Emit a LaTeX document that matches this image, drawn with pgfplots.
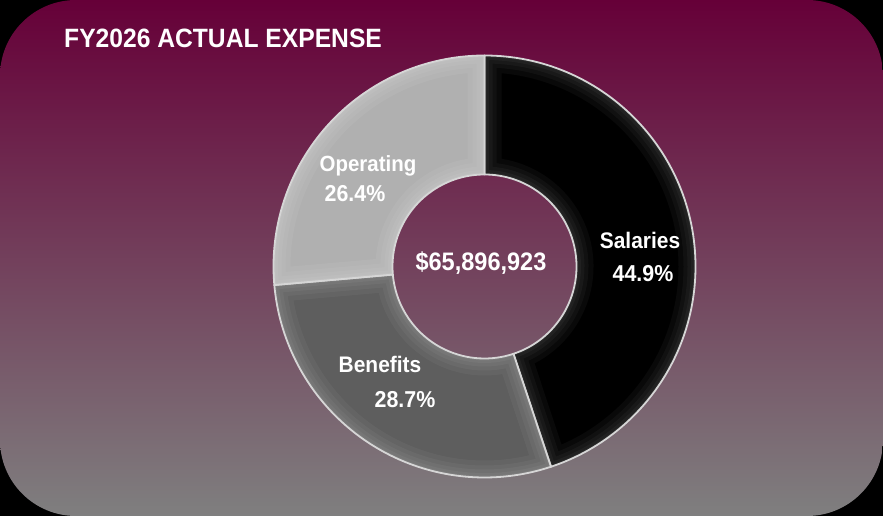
\documentclass[border=0pt]{standalone}
\usepackage{pgfplots}
\pgfplotsset{compat=1.18}
\usepackage{pgfplotstable}
\usepackage{fontspec}
\setmainfont{Liberation Sans}[FakeStretch=0.93]
\usetikzlibrary{calc}

\definecolor{Maroon}{HTML}{660038}
\definecolor{Slate}{HTML}{7F7F7F}
\definecolor{SalCol}{HTML}{000000}
\definecolor{BenCol}{HTML}{5E5E5E}
\definecolor{OpeCol}{HTML}{B0B0B0}
\definecolor{EdgeCol}{HTML}{D6D6D6}

% share of expense, percent
\pgfplotstableread{
label      value
Salaries   44.9
Benefits   28.7
Operating  26.4
}\expdata

\pgfplotstablegetelem{0}{value}\of\expdata \let\vSal\pgfplotsretval
\pgfplotstablegetelem{1}{value}\of\expdata \let\vBen\pgfplotsretval
\pgfplotstablegetelem{2}{value}\of\expdata \let\vOpe\pgfplotsretval

% donut geometry (pt, 1pt = 1px)
\def\cx{484.5}
\def\cy{249.5}
\def\Rout{211pt}
\def\Rin{92pt}

% slice between angles #1 and #2 (clockwise)
\newcommand\slice[2]{(axis cs:\cx,\cy) ++(#1:\Rout) arc[start angle=#1,end angle=#2,radius=\Rout]
  -- ($(axis cs:\cx,\cy)+(#2:\Rin)$) arc[start angle=#2,end angle=#1,radius=\Rin] -- cycle}

% one bevelled wedge: #1 start, #2 end, #3 colour, #4 sheen opacity
\newcommand\donutwedge[4]{%
  \begin{scope}
    \clip \slice{#1}{#2};
    \fill[#3] \slice{#1}{#2};
    \draw[white, opacity=#4, line width=34pt] \slice{#1}{#2};
    \draw[white, opacity=#4, line width=24pt] \slice{#1}{#2};
    \draw[white, opacity=#4, line width=16pt] \slice{#1}{#2};
    \draw[white, opacity=#4, line width=9pt] \slice{#1}{#2};
    \draw[white, opacity=#4, line width=4pt] \slice{#1}{#2};
  \end{scope}
  \draw[EdgeCol, line width=1.8pt, line join=round] \slice{#1}{#2};
}

\begin{document}
\begin{tikzpicture}
\pgfmathsetmacro\aA{90}
\pgfmathsetmacro\aB{90-3.6*\vSal}
\pgfmathsetmacro\aC{\aB-3.6*\vBen}
\pgfmathsetmacro\aD{\aC-3.6*\vOpe}
\begin{axis}[
    x=1pt, y=1pt,
    xmin=0, xmax=883, ymin=0, ymax=516,
    hide axis,
    clip=false,
    scale only axis,
]
  % panel
  \fill[black] (axis cs:0,0) rectangle (axis cs:883,516);
  \shade[top color=Maroon, bottom color=Slate, rounded corners=76pt]
    (axis cs:0,0) rectangle (axis cs:883,516);

  % donut
  \donutwedge{\aA}{\aB}{SalCol}{0.035}
  \donutwedge{\aB}{\aC}{BenCol}{0.045}
  \donutwedge{\aC}{\aD}{OpeCol}{0.05}

  % texts
  \node[anchor=base west, white, font=\fontsize{26.5}{30}\selectfont\bfseries, inner sep=0pt]
    at (axis cs:64,468) {FY2026 ACTUAL EXPENSE};
  \node[anchor=base, white, font=\fontsize{25.3}{29}\selectfont\bfseries, inner sep=0pt]
    at (axis cs:481,245) {\$65,896,923};

  \node[anchor=base, white, font=\fontsize{22.5}{26}\selectfont\bfseries, inner sep=0pt]
    at (axis cs:640,267) {Salaries};
  \node[anchor=base, white, font=\fontsize{23}{26}\selectfont\bfseries, inner sep=0pt]
    at (axis cs:643,234) {44.9\%};
  \node[anchor=base, white, font=\fontsize{22}{26}\selectfont\bfseries, inner sep=0pt]
    at (axis cs:368,344) {Operating};
  \node[anchor=base, white, font=\fontsize{23}{26}\selectfont\bfseries, inner sep=0pt]
    at (axis cs:355,314) {26.4\%};
  \node[anchor=base, white, font=\fontsize{22.5}{26}\selectfont\bfseries, inner sep=0pt]
    at (axis cs:380,143) {Benefits};
  \node[anchor=base, white, font=\fontsize{23}{26}\selectfont\bfseries, inner sep=0pt]
    at (axis cs:405,108) {28.7\%};
\end{axis}
\end{tikzpicture}
\end{document}
